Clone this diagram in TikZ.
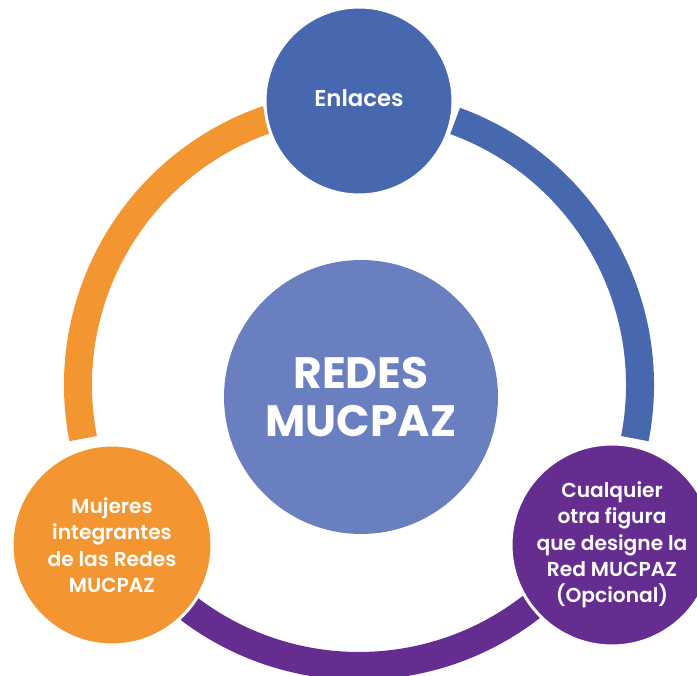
\documentclass[tikz,border=0pt]{standalone}
\usepackage{fontspec}
\setmainfont{Poppins}[UprightFont={* SemiBold}, BoldFont={* Bold}]
\usetikzlibrary{positioning}

\definecolor{enlblue}{HTML}{4767AE}
\definecolor{midblue}{HTML}{6A7FBF}
\definecolor{mujorange}{HTML}{F39530}
\definecolor{redpurple}{HTML}{652D90}

\begin{document}
\begin{tikzpicture}[
        x=0.02cm, y=0.02cm,
        ring/.style={line width=0.56cm},
        member/.style={circle, draw=white, line width=1.7pt, text=white, align=center, inner sep=0pt},
        core/.style={circle, fill=midblue, text=white, align=center, minimum size=5.48cm, font=\fontsize{25}{28}\selectfont\bfseries},
        small/.style={font=\fontsize{11.5}{15}\selectfont}
    ]
    \useasboundingbox (0,0) rectangle (697,676);
    \clip (0,0) rectangle (697,676);

    \coordinate (c) at (359,291);

    % ring segments
    \draw[ring, mujorange] (c) ++(109:281) arc[start angle=109, end angle=191, radius=281];
    \draw[ring, redpurple] (c) ++(232:281) arc[start angle=232, end angle=308.5, radius=281];
    \draw[ring, enlblue] (c) ++(-11:281) arc[start angle=-11, end angle=70, radius=281];

    \node[core] (redes) at (361,279) {REDES\\[-1pt]MUCPAZ};

    \node[member, fill=enlblue, minimum size=3.76cm, font=\fontsize{13}{15}\selectfont] (enlaces) at (359,575) {\raisebox{3pt}{Enlaces}};
    \node[member, fill=mujorange, minimum size=4cm, small] (mujeres) at (112,131) {Mujeres\\integrantes\\de las Redes\\MUCPAZ};
    \node[member, fill=redpurple, minimum size=4.04cm, small] (otra) at (612,131) {Cualquier\\otra figura\\que designe la\\Red MUCPAZ\\(Opcional)};

\end{tikzpicture}
\end{document}
